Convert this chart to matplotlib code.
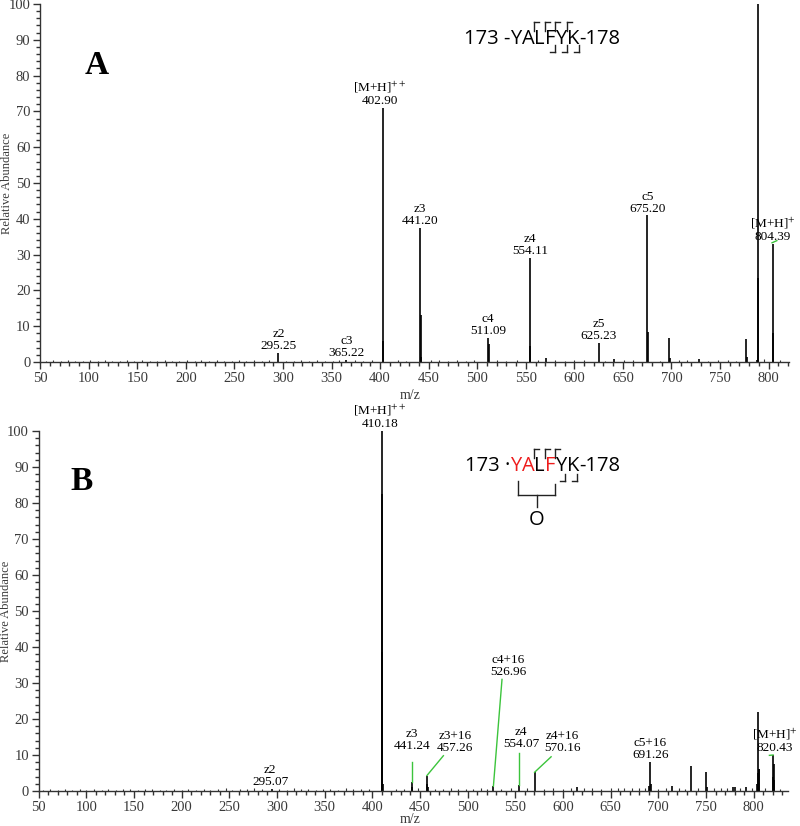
import numpy as np
import matplotlib
matplotlib.use("Agg")
import matplotlib.pyplot as plt
import matplotlib.transforms as mtransforms
from matplotlib.ticker import MultipleLocator

plt.rcParams['font.family'] = ['Liberation Serif', 'DejaVu Serif']
plt.rcParams['mathtext.fontset'] = 'stix'

# ---- panel A: peaks (m/z, relative abundance) ----
mz_a = [295.25, 365.22, 402.90, 403.40, 441.20, 441.80, 442.30, 511.09, 511.60,
        554.11, 554.70, 570.50, 625.23, 641.00, 675.20, 675.90, 697.60, 698.20,
        728.00, 776.60, 777.30, 788.00, 788.90, 789.40, 804.39, 805.00]
int_a = [2.5, 0.6, 71.0, 6.0, 37.5, 13.0, 1.5, 6.8, 5.0,
         29.0, 4.5, 1.2, 5.3, 0.7, 41.0, 8.5, 6.7, 1.2,
         0.8, 6.5, 1.5, 0.5, 100.0, 23.5, 33.0, 8.0]
noise_mz_a = [56, 63, 71, 79, 86, 94, 101, 109, 117, 124, 132, 139, 147, 155, 163,
              170, 178, 186, 193, 201, 209, 216, 224, 232, 239, 247, 255, 262, 270,
              278, 286, 303, 311, 319, 327, 335, 343, 351, 358, 374, 382, 392, 418,
              427, 452, 461, 470, 479, 488, 497, 520, 530, 541, 563, 580, 590, 600,
              610, 632, 651, 660, 688, 708, 716, 738, 748, 758, 766, 795, 812]
noise_int_a = [0.3, 0.5, 0.4, 0.6, 0.3, 0.4, 0.5, 0.3, 0.6, 0.4, 0.3, 0.5, 0.4, 0.6, 0.3,
               0.4, 0.5, 0.3, 0.4, 0.6, 0.3, 0.5, 0.4, 0.6, 0.3, 0.4, 0.5, 0.3, 0.6,
               0.4, 0.5, 0.4, 0.3, 0.6, 0.4, 0.5, 0.3, 0.4, 0.6, 0.5, 0.4, 0.6, 0.5,
               0.4, 0.6, 0.5, 0.4, 0.5, 0.4, 0.6, 0.5, 0.4, 0.6, 0.5, 0.6, 0.4, 0.5,
               0.6, 0.4, 0.5, 0.6, 0.4, 0.5, 0.6, 0.4, 0.5, 0.6, 0.4, 0.7, 0.5]
labels_a = [("z2", "295.25", 295.25), ("c3", "365.22", 365.22),
            ("[M+H]$^{++}$", "402.90", 402.90), ("z3", "441.20", 441.20),
            ("c4", "511.09", 511.09), ("z4", "554.11", 554.11),
            ("z5", "625.23", 625.23), ("c5", "675.20", 675.20),
            ("[M+H]$^{+}$", "804.39", 804.39)]

# ---- panel B ----
mz_b = [295.07, 409.70, 410.18, 410.60, 411.20, 441.24, 442.00, 457.26, 457.80,
        458.50, 526.96, 554.07, 570.16, 615.00, 690.50, 691.26, 692.00, 714.00,
        734.00, 750.00, 750.60, 778.00, 780.00, 792.00, 803.50, 804.20, 804.70,
        805.30, 806.00, 819.80, 820.43, 821.00, 821.50]
int_b = [0.6, 38.5, 100.0, 82.5, 2.0, 2.5, 1.0, 4.3, 2.0,
         1.0, 1.3, 1.8, 5.2, 1.0, 1.5, 8.0, 2.0, 1.5,
         7.0, 5.3, 1.0, 1.2, 1.2, 1.0, 2.0, 5.0, 22.0,
         6.0, 6.0, 4.0, 10.0, 7.5, 3.0]
noise_mz_b = [55, 62, 70, 78, 85, 93, 100, 108, 116, 123, 131, 138, 146, 154, 161,
              169, 177, 184, 192, 200, 207, 215, 223, 230, 238, 246, 253, 261, 269,
              276, 284, 302, 310, 318, 325, 333, 341, 348, 356, 364, 372, 380, 388,
              396, 425, 433, 448, 466, 474, 482, 490, 498, 506, 514, 520, 535, 545,
              562, 580, 590, 600, 608, 622, 630, 640, 650, 658, 664, 672, 680, 686,
              700, 708, 722, 728, 742, 758, 766, 772, 786, 798, 812, 828]
noise_int_b = [0.4, 0.5, 0.3, 0.6, 0.4, 0.5, 0.3, 0.6, 0.4, 0.5, 0.3, 0.6, 0.5, 0.4, 0.6,
               0.5, 0.4, 0.3, 0.6, 0.4, 0.5, 0.3, 0.6, 0.4, 0.5, 0.7, 0.4, 0.6, 0.5,
               0.7, 0.5, 0.6, 0.4, 0.7, 0.5, 0.6, 0.4, 0.5, 0.6, 0.4, 0.7, 0.5, 0.6,
               0.5, 0.6, 0.5, 0.7, 0.6, 0.5, 0.7, 0.6, 0.5, 0.6, 0.7, 0.5, 0.6, 0.7,
               0.8, 0.6, 0.7, 0.6, 0.8, 0.9, 0.7, 0.6, 0.8, 0.7, 0.9, 0.7, 0.8, 0.9,
               0.6, 0.8, 0.7, 0.6, 0.8, 0.9, 0.7, 0.8, 0.7, 0.9, 0.8, 0.6]
labels_b = [("z2", "295.07", 295.07), ("[M+H]$^{++}$", "410.18", 410.18),
            ("z3", "441.24", 441.24), ("z3+16", "457.26", 457.26),
            ("c4+16", "526.96", 526.96), ("z4", "554.07", 554.07),
            ("z4+16", "570.16", 570.16), ("c5+16", "691.26", 691.26),
            ("[M+H]$^{+}$", "820.43", 820.43)]

# label placement for B (text bottom centre, leader start), data units
place_b = {
    "295.07": ((292.7, 0.8), None),
    "410.18": ((408.0, 100.3), None),
    "441.24": ((441.7, 10.8), (441.24, 8.0)),
    "457.26": ((486.8, 10.3), (474.5, 9.8)),
    "526.96": ((542.4, 31.5), (536.0, 31.0)),
    "554.07": ((556.0, 11.4), (554.07, 10.6)),
    "570.16": ((599.0, 10.2), (587.5, 9.5)),
    "691.26": ((691.4, 8.2), None),
    "820.43": ((822.5, 10.2), (816.5, 9.9)),
}

GREEN = '#3cc43c'
TICK_C = '#333333'
LBL_C = '#3a3a3a'
PEP_FONT = ['Open Sans', 'DejaVu Sans']

fig = plt.figure(figsize=(8, 8.26), dpi=100)
W, H = 800, 826


def px(x, y):
    return x / W, 1 - y / H


def peak_top(mz_list, int_list, m):
    mz_arr = np.array(mz_list)
    ints = np.array(int_list)
    sel = np.abs(mz_arr - m) < 0.7
    return ints[sel].max()


def setup_axes(ax, xmax):
    ax.set_xlim(50, xmax)
    ax.set_ylim(0, 100)
    for s in ['top', 'right']:
        ax.spines[s].set_visible(False)
    for s in ['left', 'bottom']:
        ax.spines[s].set_color(TICK_C)
        ax.spines[s].set_linewidth(1.0)
    ax.xaxis.set_major_locator(MultipleLocator(50))
    ax.xaxis.set_minor_locator(MultipleLocator(10))
    ax.yaxis.set_major_locator(MultipleLocator(10))
    ax.yaxis.set_minor_locator(MultipleLocator(2))
    ax.tick_params(which='major', length=5, width=1.0, color=TICK_C,
                   labelsize=10.5, labelcolor=LBL_C, pad=2)
    ax.tick_params(which='minor', length=3, width=1.0, color=TICK_C)
    ax.set_ylabel('Relative Abundance', fontsize=9, color=LBL_C)
    ax.set_xlabel('m/z', fontsize=10, color=LBL_C)


def draw_spectrum(ax, mz, inten, nmz, nint):
    ax.vlines(nmz, 0, nint, color='#333333', lw=0.8)
    ax.vlines(mz, 0, inten, color='black', lw=1.2)


# ---------------- panel A ----------------
axA = fig.add_axes([40.2 / W, 1 - 362 / H, (789 - 40.2) / W, 358 / H])
setup_axes(axA, 821)
draw_spectrum(axA, mz_a, int_a, noise_mz_a, noise_int_a)
axA.yaxis.set_label_coords(-0.036, 0.5)
axA.xaxis.set_label_coords(0.494, -0.075)

for name, val, m in labels_a:
    top = peak_top(mz_a, int_a, m)
    dx = -2.5 if m == 402.90 else 0
    axA.annotate(name + "\n" + val, xy=(m, top), xytext=(dx, 0.5),
                 textcoords='offset points', ha='center', va='bottom',
                 fontsize=9.5, linespacing=1.0, annotation_clip=False)
axA.plot([803.5, 808.5], [33.3, 33.9], color=GREEN, lw=1)
fig.text(*px(97, 66), 'A', fontsize=24, fontweight='bold', ha='center', va='center')

# ---------------- panel B ----------------
axB = fig.add_axes([38.7 / W, 1 - 791 / H, (788 - 38.7) / W, 360 / H])
setup_axes(axB, 836)
draw_spectrum(axB, mz_b, int_b, noise_mz_b, noise_int_b)
axB.yaxis.set_label_coords(-0.036, 0.5)
axB.xaxis.set_label_coords(0.496, -0.062)

for name, val, m in labels_b:
    top = peak_top(mz_b, int_b, m)
    (tx, ty), start = place_b[val]
    axB.text(tx, ty, name + "\n" + val, ha='center', va='bottom', fontsize=9.5,
             linespacing=1.0, clip_on=False)
    if start is not None:
        axB.plot([start[0], m], [start[1], top], color=GREEN, lw=1, clip_on=False)
fig.text(*px(82, 482), 'B', fontsize=24, fontweight='bold', ha='center', va='center')


# ---------------- peptide sequences ----------------
def draw_peptide(x, y, pieces, size=14.5):
    renderer = fig.canvas.get_renderer()
    trans = fig.transFigure
    boxes = []
    for s, c in pieces:
        t = fig.text(x, y, s, color=c, fontsize=size, family=PEP_FONT,
                     ha='left', va='center', transform=trans)
        bb = t.get_window_extent(renderer)
        boxes.append(bb)
        trans = mtransforms.offset_copy(t.get_transform(), fig=fig,
                                        x=bb.width, units='dots')
    return boxes


def seg(x0, y0, x1, y1):
    # pixel coords from top-left
    fig.add_artist(plt.Line2D([x0 / W, x1 / W], [1 - y0 / H, 1 - y1 / H],
                              transform=fig.transFigure, color='#222222', lw=1))


def bracket_top(x, ytop, ybot, w=5):
    seg(x, ybot, x, ytop)
    seg(x, ytop, x + w, ytop)


def bracket_bot(x, ytop, ybot, w=5):
    seg(x, ytop, x, ybot)
    seg(x, ybot, x - w, ybot)


K = 'black'
R = '#ee1c1c'
piecesA = [("173 -", K), ("Y", K), ("A", K), ("L", K), ("F", K), ("Y", K), ("K", K), ("-178", K)]
bA = draw_peptide(*px(464, 39), piecesA)
redge = lambda bb: bb.x1
for i in [2, 3, 4, 5]:
    bracket_top(redge(bA[i]), 22, 31)
for i in [4, 5, 6]:
    bracket_bot(redge(bA[i]), 45, 52)

piecesB = [("173 ·", K), ("Y", R), ("A", R), ("L", K), ("F", R), ("Y", K), ("K", K), ("-178", K)]
bB = draw_peptide(*px(465, 466), piecesB)
for i in [2, 3, 4]:
    bracket_top(redge(bB[i]), 449, 458)
for i in [5, 6]:
    bracket_bot(redge(bB[i]) - 2, 474, 481)
xl = (bB[1].x0 + bB[1].x1) / 2 + 2
xr = redge(bB[4])
seg(xl, 481, xl, 495)
seg(xr, 484, xr, 495)
seg(xl, 495, xr, 495)
xm = (xl + xr) / 2
seg(xm, 495, xm, 507)
fig.text(xm / W, 1 - 520 / H, 'O', fontsize=14.5, family=PEP_FONT, ha='center', va='center')

fig.savefig('out.png', dpi=100)
